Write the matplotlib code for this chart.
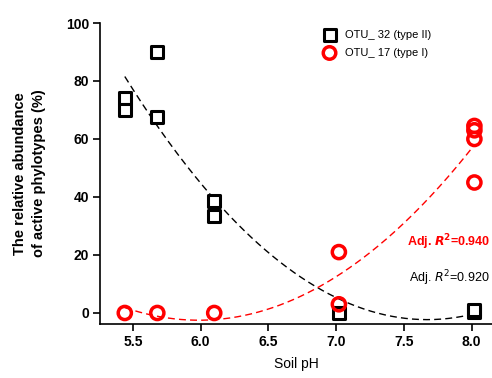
import numpy as np
import matplotlib
matplotlib.use("Agg")
import matplotlib.pyplot as plt

plt.rcParams['font.family'] = ['Liberation Sans', 'DejaVu Sans']

# Data
ph_32 = [5.44, 5.44, 5.68, 5.68, 6.10, 6.10, 7.02, 8.02, 8.02]
otu_32 = [74, 70, 90, 67.5, 38.5, 33.5, 0, 0.5, 1]
ph_17 = [5.44, 5.68, 6.10, 7.02, 7.02, 8.02, 8.02, 8.02, 8.02]
otu_17 = [0, 0, 0, 21, 3, 64.5, 63, 60, 45]
xticks = [5.5, 6.0, 6.5, 7.0, 7.5, 8.0]
yticks = [0, 20, 40, 60, 80, 100]

fig = plt.figure(figsize=(4.92, 3.78), dpi=100)
ax = fig.add_axes([100/492, (378-324)/378, (492-100)/492, (324-23)/378])

xs = np.linspace(5.44, 8.02, 200)
c32 = np.polyfit(ph_32, otu_32, 2)
c17 = np.polyfit(ph_17, otu_17, 2)
ax.plot(xs, np.polyval(c32, xs), ls=(0, (5, 3)), color='black', lw=1.0, zorder=1)
ax.plot(xs, np.polyval(c17, xs), ls=(0, (5, 3)), color='red', lw=1.0, zorder=1)

ax.scatter(ph_32, otu_32, marker='s', s=72, facecolors='white', edgecolors='black',
           linewidths=2.2, label='OTU_ 32 (type II)', zorder=3)
ax.scatter(ph_17, otu_17, marker='o', s=90, facecolors='none', edgecolors='red',
           linewidths=2.5, label='OTU_ 17 (type I)', zorder=4)

ax.set_xlim(5.257, 8.15)
ax.set_ylim(-3.8, 100)
ax.set_xticks(xticks)
ax.set_xticklabels([f"{t:.1f}" for t in xticks], fontweight='bold', fontsize=10)
ax.set_yticks(yticks)
ax.set_yticklabels([str(t) for t in yticks], fontweight='bold', fontsize=10)
ax.spines['top'].set_visible(False)
ax.spines['right'].set_visible(False)
ax.spines['left'].set_bounds(-3.8, 100)
ax.tick_params(direction='out', length=5, width=1.2, pad=3)
for s in ['left', 'bottom']:
    ax.spines[s].set_linewidth(1.2)

ax.set_xlabel('Soil pH', fontsize=10, labelpad=6)
ax.set_ylabel('The relative abundance\nof active phylotypes (%)', fontsize=10.5,
              fontweight='bold', labelpad=14, linespacing=1.45)

leg = ax.legend(loc='upper left', bbox_to_anchor=(0.56, 0.993), frameon=False, fontsize=8,
                handletextpad=0.9, borderaxespad=0.0, labelspacing=0.75, markerscale=0.95,
                handlelength=1.0)

ax.text(0.995, 0.258, 'Adj. $\\mathbfit{R}^{\\mathbf{2}}$=0.940', transform=ax.transAxes,
        color='red', fontweight='bold', fontsize=9, ha='right')
ax.text(0.995, 0.14, 'Adj. $\\mathit{R}^{2}$=0.920', transform=ax.transAxes,
        color='black', fontsize=9, ha='right')

fig.savefig('out.png', dpi=100)
